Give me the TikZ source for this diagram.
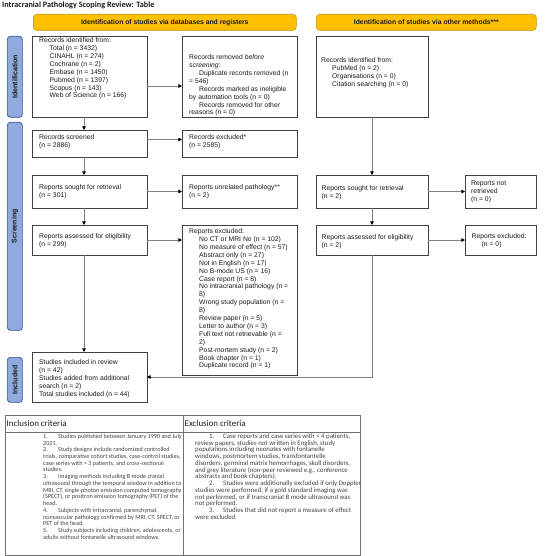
\documentclass[tikz,border=0pt]{standalone}
\usepackage{fontspec}
\setmainfont{Liberation Sans}
\newfontfamily\calfont{Carlito}
\usetikzlibrary{arrows.meta}
\definecolor{bannerfill}{HTML}{FFC000}
\definecolor{bannerdraw}{HTML}{BF9000}
\definecolor{sidefill}{HTML}{8FAADC}
\definecolor{sidedraw}{HTML}{2F528F}
\definecolor{boxdraw}{HTML}{404040}
\definecolor{linegray}{HTML}{808080}
\definecolor{txtc}{HTML}{1A1A1A}
\definecolor{tblline}{HTML}{707070}
\definecolor{tbltxt}{HTML}{404040}
\begin{document}
\begin{tikzpicture}[x=1pt,y=-1pt,
  boxn/.style={draw=boxdraw, line width=0.7pt, fill=white, anchor=north west, inner sep=0pt, outer sep=0pt},
  txtn/.style={anchor=north west, align=left, inner sep=0pt, text=txtc, font=\fontsize{6.8}{7.9}\selectfont},
  side/.style={draw=sidedraw, fill=sidefill, line width=0.7pt, rounded corners=3pt, anchor=north west, inner sep=0pt, minimum width=15pt},
  sidetxt/.style={rotate=90, inner sep=0pt, font=\bfseries\fontsize{7}{8}\selectfont, text=txtc},
  banner/.style={draw=bannerdraw, fill=bannerfill, line width=0.6pt, rounded corners=3.5pt, anchor=north west, inner sep=0pt, minimum height=16pt, font=\bfseries\fontsize{6.8}{8}\selectfont, text=txtc},
  conn/.style={draw=linegray, line width=0.7pt, -{Triangle[length=3.6pt,width=3.6pt,color=black]}},
  cell/.style={draw=tblline, line width=0.8pt, anchor=north west, inner sep=0pt, outer sep=0pt},
  tbltext/.style={anchor=north west, align=left, inner sep=0pt, text=tbltxt, font=\calfont\fontsize{6.15}{6.73}\selectfont},
  tbltextb/.style={anchor=north west, align=left, inner sep=0pt, text=tbltxt, font=\calfont\fontsize{6.8}{6.73}\selectfont},
  tblhead/.style={anchor=west, inner sep=0pt, text=txtc, font=\calfont\fontsize{8.9}{10}\selectfont},
  ]
\useasboundingbox (0,0) rectangle (546,556);

% title
\node[anchor=west, inner sep=0pt, text=txtc, font=\calfont\bfseries\fontsize{8.2}{9}\selectfont] (title) at (2,5.5) {Intracranial Pathology Scoping Review: Table};

% banners
\node[banner, minimum width=263pt] (ban1) at (33,14) {Identification of studies via databases and registers};
\node[banner, minimum width=220pt] (ban2) at (316,14) {Identification of studies via other methods***};

% side labels
\node[side, minimum height=81pt] (s1) at (7,36) {};
\node[sidetxt] (s1t) at (s1.center) {Identification};
\node[side, minimum height=208pt] (s2) at (7,122) {};
\node[sidetxt] (s2t) at (s2.center) {Screening};
\node[side, minimum height=45pt] (s3) at (7,357) {};
\node[sidetxt] (s3t) at (s3.center) {Included};

% boxes
\node[boxn, minimum width=115pt, minimum height=81pt] (A) at (32,36) {};
\node[boxn, minimum width=115pt, minimum height=81pt] (B) at (182,36) {};
\node[boxn, minimum width=112pt, minimum height=81pt] (C) at (316,36) {};
\node[boxn, minimum width=115pt, minimum height=27pt] (D) at (32,130) {};
\node[boxn, minimum width=115pt, minimum height=27pt] (E) at (182,130) {};
\node[boxn, minimum width=115pt, minimum height=33pt] (F) at (32,175) {};
\node[boxn, minimum width=115pt, minimum height=33pt] (G) at (182,175) {};
\node[boxn, minimum width=112pt, minimum height=33pt] (H) at (316,175) {};
\node[boxn, minimum width=71pt, minimum height=33pt] (I) at (465,175) {};
\node[boxn, minimum width=115pt, minimum height=30pt] (J) at (32,225) {};
\node[boxn, minimum width=115pt, minimum height=150pt] (K) at (182,225) {};
\node[boxn, minimum width=112pt, minimum height=30pt] (L) at (316,225) {};
\node[boxn, minimum width=71pt, minimum height=30pt] (M) at (465,225) {};
\node[boxn, minimum width=115pt, minimum height=50pt] (N) at (32,352) {};

% texts
\node[txtn] (At) at (39,37.5) {Records identified from:\\
\hspace*{10.5pt}Total (n = 3432)\\
\hspace*{10.5pt}CINAHL (n = 274)\\
\hspace*{10.5pt}Cochrane (n = 2)\\
\hspace*{10.5pt}Embase (n = 1450)\\
\hspace*{10.5pt}Pubmed (n = 1397)\\
\hspace*{10.5pt}Scopus (n = 143)\\
\hspace*{10.5pt}Web of Science (n = 166)};
\node[txtn] (Bt) at (189,54.5) {Records removed \emph{before}\\
\emph{screening}:\\
\hspace*{10pt}Duplicate records removed (n\\
= 546)\\
\hspace*{10pt}Records marked as ineligible\\
by automation tools (n = 0)\\
\hspace*{10pt}Records removed for other\\
reasons (n = 0)};
\node[txtn] (Ct) at (321,57.5) {Records identified from:\\
\hspace*{11pt}PubMed (n = 2)\\
\hspace*{11pt}Organisations (n = 0)\\
\hspace*{11pt}Citation searching (n = 0)};
\node[txtn] (Dt) at (39,134.5) {Records screened\\(n = 2886)};
\node[txtn] (Et) at (189,134.5) {Records excluded*\\(n = 2585)};
\node[txtn] (Ft) at (39,184.5) {Reports sought for retrieval\\(n = 301)};
\node[txtn] (Gt) at (189,184.5) {Reports unrelated pathology**\\(n = 2)};
\node[txtn] (Ht) at (321.5,185) {Reports sought for retrieval\\(n = 2)};
\node[txtn] (It) at (471,181) {Reports not\\retrieved\\(n = 0)};
\node[txtn] (Jt) at (39,233.5) {Reports assessed for eligibility\\(n = 299)};
\node[txtn] (Kt) at (189,228.5) {Reports excluded:\\
\hspace*{10pt}No CT or MRI No (n = 102)\\
\hspace*{10pt}No measure of effect (n = 57)\\
\hspace*{10pt}Abstract only (n = 27)\\
\hspace*{10pt}Not in English (n = 17)\\
\hspace*{10pt}No B-mode US (n = 16)\\
\hspace*{10pt}Case report (n = 8)\\
\hspace*{10pt}No intracranial pathology (n =\\
\hspace*{10pt}8)\\
\hspace*{10pt}Wrong study population (n =\\
\hspace*{10pt}8)\\
\hspace*{10pt}Review paper (n = 5)\\
\hspace*{10pt}Letter to author (n = 3)\\
\hspace*{10pt}Full text not retrievable (n =\\
\hspace*{10pt}2)\\
\hspace*{10pt}Post-mortem study (n = 2)\\
\hspace*{10pt}Book chapter (n = 1)\\
\hspace*{10pt}Duplicate record (n = 1)};
\node[txtn] (Lt) at (321.5,234) {Reports assessed for eligibility\\(n = 2)};
\node[txtn] (Mt) at (471.5,233.5) {Reports excluded:\\\hspace*{10pt}(n = 0)};
\node[txtn] (Nt) at (39,359.5) {Studies included in review\\
(n = 42)\\
Studies added from additional\\
search (n = 2)\\
Total studies included (n = 44)};

% connectors
\draw[conn] ([yshift=-9.5pt]A.east) -- ([yshift=-9.5pt]B.west);
\draw[conn] ([yshift=4pt]D.east) -- ([yshift=4pt]E.west);
\draw[conn] (F.east) -- (G.west);
\draw[conn] (J.east) -- (K.west |- J.east);
\draw[conn] (H.east) -- (I.west);
\draw[conn] (L.east) -- (M.west);
\draw[conn] ([xshift=-5.5pt]A.south) -- ([xshift=-5.5pt]D.north);
\draw[conn] ([xshift=-5.5pt]D.south) -- ([xshift=-5.5pt]F.north);
\draw[conn] ([xshift=-5.5pt]F.south) -- ([xshift=-5.5pt]J.north);
\draw[conn] ([xshift=-5.5pt]J.south) -- ([xshift=-5.5pt]N.north);
\draw[conn] (C.south) -- (H.north);
\draw[conn] (H.south) -- (L.north);
\draw[conn] (L.south) |- (N.east);

% table
\node[cell, minimum width=178pt, minimum height=17pt] (th1) at (5,415) {};
\node[cell, minimum width=177pt, minimum height=17pt] (th2) at (183,415) {};
\node[cell, minimum width=178pt, minimum height=123pt] (tb1) at (5,432) {};
\node[cell, minimum width=177pt, minimum height=123pt] (tb2) at (183,432) {};
\node[tblhead] (th1t) at (6.5,423) {Inclusion criteria};
\node[tblhead] (th2t) at (184.5,423) {Exclusion criteria};
\node[tbltext] (tb1t) at (43,433.8) {\makebox[15pt][l]{1.}Studies published between January 1990 and July\\
2021.\\
\makebox[15pt][l]{2.}Study designs include randomized controlled\\
trials, comparative cohort studies, case-control studies,\\
case series with > 3 patients, and cross-sectional\\
studies.\\
\makebox[15pt][l]{3.}Imaging methods including B mode cranial\\
ultrasound through the temporal window in addition to\\
MRI, CT, single-photon emission computed tomography\\
(SPECT), or positron emission tomography (PET) of the\\
head.\\
\makebox[15pt][l]{4.}Subjects with intracranial, parenchymal,\\
nonvascular pathology confirmed by MRI, CT, SPECT, or\\
PET of the head.\\
\makebox[15pt][l]{5.}Study subjects including children, adolescents, or\\
adults without fontanelle ultrasound windows.};
\node[tbltextb] (tb2t) at (195,433.6) {\hspace*{14pt}\makebox[14pt][l]{1.}Case reports and case series with < 4 patients,\\
review papers, studies not written in English, study\\
populations including neonates with fontanelle\\
windows, postmortem studies, transfontantelle\\
disorders, germinal matrix hemorrhages, skull disorders,\\
and grey literature (non-peer reviewed e.g., conference\\
abstracts and book chapters).\\
\hspace*{14pt}\makebox[14pt][l]{2.}Studies were additionally excluded if only Doppler\\
studies were performed, if a gold standard imaging was\\
not performed, or if transcranial B mode ultrasound was\\
not performed.\\
\hspace*{14pt}\makebox[14pt][l]{3.}Studies that did not report a measure of effect\\
were excluded.};
\end{tikzpicture}
\end{document}
